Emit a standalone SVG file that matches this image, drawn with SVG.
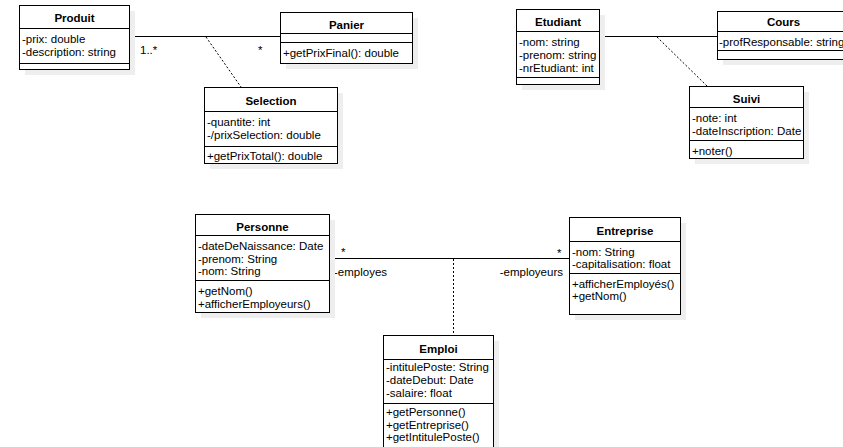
<svg xmlns="http://www.w3.org/2000/svg" width="843" height="447" viewBox="0 0 843 447">
  <style>
    text { font-family: "Liberation Sans", Arial, Helvetica, sans-serif; font-size: 11.5px; fill: #000; }
    .title { font-weight: bold; text-anchor: middle; }
    .box { fill: #fff; stroke: #000; stroke-width: 1; }
    .shadow { fill: #eeeeee; }
    .sep { stroke: #000; stroke-width: 1; fill: none; }
    .assoc { stroke: #000; stroke-width: 1; fill: none; }
    .link { stroke: #000; stroke-width: 1; fill: none; stroke-dasharray: 2 2; }
  </style>

  <!-- associations -->
  <g id="connectors">
    <line class="assoc" x1="129" y1="36.5" x2="280" y2="36.5"/>
    <line class="link" x1="206" y1="37" x2="241" y2="87"/>
    <text x="140" y="54">1..*</text>
    <text x="258" y="54">*</text>

    <line class="assoc" x1="599" y1="36.5" x2="717" y2="36.5"/>
    <line class="link" x1="657" y1="37" x2="707" y2="86"/>

    <line class="assoc" x1="329" y1="258.5" x2="569" y2="258.5"/>
    <line class="link" x1="453.5" y1="259" x2="453.5" y2="335"/>
    <text x="341" y="256">*</text>
    <text x="334" y="276">-employes</text>
    <text x="557" y="257">*</text>
    <text x="563" y="276" text-anchor="end">-employeurs</text>
  </g>

  <g id="Produit">
    <rect class="shadow" x="25" y="11" width="110" height="64"/>
    <rect class="box" x="19.5" y="5.5" width="110" height="64"/>
    <line class="sep" x1="19.5" y1="28.5" x2="129.5" y2="28.5"/>
    <line class="sep" x1="19.5" y1="63.5" x2="129.5" y2="63.5"/>
    <text class="title" x="74.5" y="22">Produit</text>
    <text x="22" y="43">-prix: double</text>
    <text x="22" y="56">-description: string</text>
  </g>

  <g id="Panier">
    <rect class="shadow" x="286" y="18" width="132" height="51"/>
    <rect class="box" x="280.5" y="12.5" width="132" height="51"/>
    <line class="sep" x1="280.5" y1="33.5" x2="412.5" y2="33.5"/>
    <line class="sep" x1="280.5" y1="42.5" x2="412.5" y2="42.5"/>
    <text class="title" x="346.5" y="28.5">Panier</text>
    <text x="283" y="57">+getPrixFinal(): double</text>
  </g>

  <g id="Selection">
    <rect class="shadow" x="210" y="93" width="133" height="76"/>
    <rect class="box" x="204.5" y="87.5" width="133" height="76"/>
    <line class="sep" x1="204.5" y1="111.5" x2="337.5" y2="111.5"/>
    <line class="sep" x1="204.5" y1="146.5" x2="337.5" y2="146.5"/>
    <text class="title" x="271" y="105">Selection</text>
    <text x="207" y="126">-quantite: int</text>
    <text x="207" y="139">-/prixSelection: double</text>
    <text x="207" y="160">+getPrixTotal(): double</text>
  </g>

  <g id="Etudiant">
    <rect class="shadow" x="522" y="15" width="83" height="75"/>
    <rect class="box" x="516.5" y="9.5" width="83" height="75"/>
    <line class="sep" x1="516.5" y1="31.5" x2="599.5" y2="31.5"/>
    <line class="sep" x1="516.5" y1="77.5" x2="599.5" y2="77.5"/>
    <text class="title" x="558" y="26">Etudiant</text>
    <text x="519" y="46">-nom: string</text>
    <text x="519" y="59">-prenom: string</text>
    <text x="519" y="72">-nrEtudiant: int</text>
  </g>

  <g id="Cours">
    <rect class="shadow" x="723" y="17" width="132" height="48"/>
    <rect class="box" x="717.5" y="11.5" width="132" height="48"/>
    <line class="sep" x1="717.5" y1="31.5" x2="849.5" y2="31.5"/>
    <line class="sep" x1="717.5" y1="50.5" x2="849.5" y2="50.5"/>
    <text class="title" x="783.5" y="26">Cours</text>
    <text x="719" y="46">-profResponsable: string</text>
  </g>

  <g id="Suivi">
    <rect class="shadow" x="695" y="92" width="114" height="72"/>
    <rect class="box" x="689.5" y="86.5" width="114" height="72"/>
    <line class="sep" x1="689.5" y1="107.5" x2="803.5" y2="107.5"/>
    <line class="sep" x1="689.5" y1="140.5" x2="803.5" y2="140.5"/>
    <text class="title" x="746.5" y="103">Suivi</text>
    <text x="692" y="122">-note: int</text>
    <text x="692" y="135">-dateInscription: Date</text>
    <text x="692" y="155">+noter()</text>
  </g>

  <g id="Personne">
    <rect class="shadow" x="201" y="220" width="134" height="98"/>
    <rect class="box" x="195.5" y="214.5" width="134" height="98"/>
    <line class="sep" x1="195.5" y1="235.5" x2="329.5" y2="235.5"/>
    <line class="sep" x1="195.5" y1="280.5" x2="329.5" y2="280.5"/>
    <text class="title" x="262.5" y="231">Personne</text>
    <text x="198" y="250">-dateDeNaissance: Date</text>
    <text x="198" y="262.5">-prenom: String</text>
    <text x="198" y="275">-nom: String</text>
    <text x="198" y="295">+getNom()</text>
    <text x="198" y="307.5">+afficherEmployeurs()</text>
  </g>

  <g id="Entreprise">
    <rect class="shadow" x="575" y="223" width="111" height="97"/>
    <rect class="box" x="569.5" y="217.5" width="111" height="97"/>
    <line class="sep" x1="569.5" y1="241.5" x2="680.5" y2="241.5"/>
    <line class="sep" x1="569.5" y1="273.5" x2="680.5" y2="273.5"/>
    <text class="title" x="625" y="235">Entreprise</text>
    <text x="572" y="256">-nom: String</text>
    <text x="572" y="268">-capitalisation: float</text>
    <text x="572" y="288">+afficherEmployés()</text>
    <text x="572" y="300">+getNom()</text>
  </g>

  <g id="Emploi">
    <rect class="shadow" x="389" y="341" width="110" height="120"/>
    <rect class="box" x="383.5" y="335.5" width="110" height="120"/>
    <line class="sep" x1="383.5" y1="359.5" x2="493.5" y2="359.5"/>
    <line class="sep" x1="383.5" y1="403.5" x2="493.5" y2="403.5"/>
    <text class="title" x="438.5" y="353">Emploi</text>
    <text x="386" y="371">-intitulePoste: String</text>
    <text x="386" y="384">-dateDebut: Date</text>
    <text x="386" y="397">-salaire: float</text>
    <text x="386" y="416">+getPersonne()</text>
    <text x="386" y="428.5">+getEntreprise()</text>
    <text x="386" y="441">+getIntitulePoste()</text>
  </g>
</svg>
